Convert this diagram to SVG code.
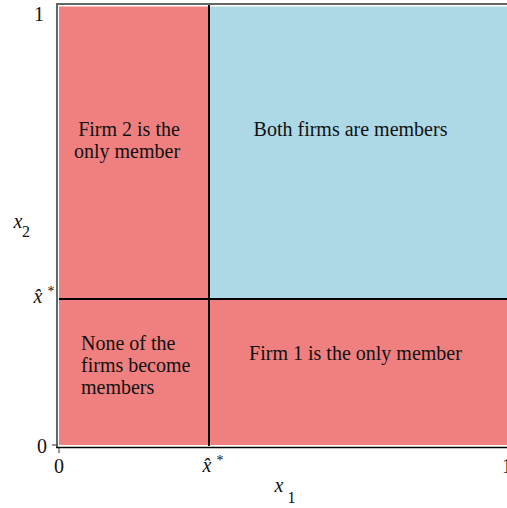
<svg xmlns="http://www.w3.org/2000/svg" width="507" height="508" viewBox="0 0 507 508">
<style>
text{font-family:"Liberation Serif","Times New Roman",serif;fill:#111;}
.lbl{font-size:20px;}
.ax{font-size:20px;}
.it{font-style:italic;}
.red{fill:#F08080;}
.blue{fill:#ADD8E6;}
.div{stroke:#000;stroke-width:2;fill:none;}
</style>
<rect width="507" height="508" fill="#fff"/>
<g id="regions">
<g id="none"><rect class="red" x="59" y="299" width="150" height="146"/>
<text class="lbl" x="81" y="350">None of the</text>
<text class="lbl" x="81" y="372">firms become</text>
<text class="lbl" x="81" y="394">members</text></g>
<g id="firm2"><rect class="red" x="59" y="6.5" width="150" height="292.5"/>
<text class="lbl" x="129" y="136" text-anchor="middle">Firm 2 is the</text>
<text class="lbl" x="127" y="158" text-anchor="middle">only member</text></g>
<g id="both"><rect class="blue" x="209" y="6.5" width="298" height="292.5"/>
<text class="lbl" x="350.5" y="136" text-anchor="middle">Both firms are members</text></g>
<g id="firm1"><rect class="red" x="209" y="299" width="298" height="146"/>
<text class="lbl" x="355.5" y="360" text-anchor="middle">Firm 1 is the only member</text></g>
</g>
<g id="connectors">
<line class="div" x1="209" y1="5" x2="209" y2="446"/>
<line class="div" x1="59" y1="299" x2="507" y2="299"/>
</g>
<g id="axes">
<path d="M57 448 V4 H507" fill="none" stroke="#666" stroke-width="2"/>
<line x1="56" y1="447.5" x2="507" y2="447.5" stroke="#000" stroke-width="1.5"/>
<line x1="52" y1="445" x2="57" y2="445" stroke="#333" stroke-width="1"/>
<line x1="59" y1="448" x2="59" y2="453" stroke="#333" stroke-width="1"/>
<text class="ax" x="44" y="21" text-anchor="end">1</text>
<text class="ax" x="47" y="453" text-anchor="end">0</text>
<text class="ax" x="59" y="473" text-anchor="middle">0</text>
<text class="ax" x="507" y="473" text-anchor="middle">1</text>
<text class="ax it" x="38" y="303" text-anchor="middle">x&#770;</text>
<text x="51" y="296" font-size="14" text-anchor="middle">*</text>
<text class="ax it" x="207" y="472" text-anchor="middle">x&#770;</text>
<text x="220" y="465" font-size="14" text-anchor="middle">*</text>
<text class="ax it" x="18" y="228" text-anchor="middle">x</text>
<text x="26" y="237" font-size="16" text-anchor="middle">2</text>
<text class="ax it" x="279" y="492" text-anchor="middle">x</text>
<text x="291.5" y="503" font-size="16" text-anchor="middle">1</text>
</g>
</svg>
